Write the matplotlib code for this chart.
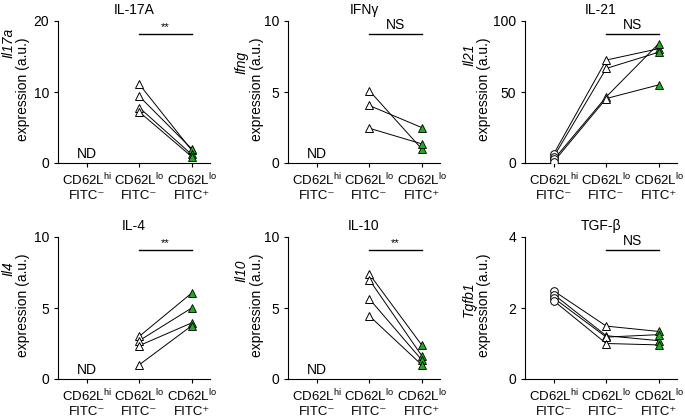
"""
Paired expression plots for six cytokines across three sorted T cell populations.
Saves out.png (685x418).
"""

import matplotlib.pyplot as plt

plt.rcParams["font.family"] = ["Liberation Sans", "DejaVu Sans"]
plt.rcParams["mathtext.fontset"] = "custom"
plt.rcParams["mathtext.rm"] = "Liberation Sans"
plt.rcParams["mathtext.it"] = "Liberation Sans:italic"

GROUP_LABELS = [
    "CD62L$^{\\rm hi}$\nFITC\u207b",
    "CD62L$^{\\rm lo}$\nFITC\u207b",
    "CD62L$^{\\rm lo}$\nFITC\u207a",
]

# one list per mouse pairing; None = not detected
IL17A_HI = None
IL17A_LO_NEG = [11.1, 9.4, 7.8, 7.2]
IL17A_LO_POS = [1.8, 2.0, 1.2, 0.9]

IFNG_HI = None
IFNG_LO_NEG = [5.1, 4.05, 2.45]
IFNG_LO_POS = [1.0, 2.5, 1.35]

IL21_HI = [6.5, 4.5, 2.5, 1.0]
IL21_LO_NEG = [72.5, 66.6, 46.6, 45.4]
IL21_LO_POS = [80.5, 78.0, 84.0, 55.0]

IL4_HI = None
IL4_LO_NEG = [3.0, 2.7, 2.35, 1.0]
IL4_LO_POS = [6.05, 5.0, 3.95, 3.75]

IL10_HI = None
IL10_LO_NEG = [7.4, 7.0, 5.65, 4.45]
IL10_LO_POS = [2.4, 1.65, 1.35, 1.0]

TGFB_HI = [2.48, 2.38, 2.28, 2.2]
TGFB_LO_NEG = [1.49, 1.22, 1.18, 1.0]
TGFB_LO_POS = [1.34, 1.08, 1.25, 0.96]

PANELS = [
    # title, gene, hi, lo-, lo+, ymax, yticks, sig, gene label y (px)
    ("IL-17A", "Il17a", IL17A_HI, IL17A_LO_NEG, IL17A_LO_POS, 20, [0, 10, 20], "**", 43),
    ("IFN\u03b3", "Ifng", IFNG_HI, IFNG_LO_NEG, IFNG_LO_POS, 10, [0, 5, 10], "NS", 62),
    ("IL-21", "Il21", IL21_HI, IL21_LO_NEG, IL21_LO_POS, 100, [0, 50, 100], "NS", 55),
    ("IL-4", "Il4", IL4_HI, IL4_LO_NEG, IL4_LO_POS, 10, [0, 5, 10], "**", 269),
    ("IL-10", "Il10", IL10_HI, IL10_LO_NEG, IL10_LO_POS, 10, [0, 5, 10], "**", 271),
    ("TGF-\u03b2", "Tgfb1", TGFB_HI, TGFB_LO_NEG, TGFB_LO_POS, 4, [0, 2, 4], "NS", 299),
]

GREEN = "#22a822"
W, H = 685, 418
COL_X = [(58, 210), (288, 440), (525, 677)]
ROW_Y = [(21, 163), (237, 379)]
GENE_X = [8, 241, 469]
EXPR_X = [23, 257, 484]


def px_rect(left, top, right, bottom):
    return [left / W, 1 - bottom / H, (right - left) / W, (bottom - top) / H]


def draw_panel(fig, ax, col, title, gene, hi, lo_neg, lo_pos, ymax, yticks, sig, gene_y):
    lw = 0.8
    for i in range(len(lo_neg)):
        xs, ys = [1, 2], [lo_neg[i], lo_pos[i]]
        if hi is not None:
            xs, ys = [0] + xs, [hi[i]] + ys
        ax.plot(xs, ys, color="black", lw=0.7, zorder=2)
    if hi is not None:
        ax.plot([0] * len(hi), hi, ls="none", marker="o", ms=5.5,
                mfc="white", mec="black", mew=0.7, zorder=3)
    else:
        ax.text(0, ymax * 0.06, "ND", ha="center", va="center", fontsize=10)
    ax.plot([1] * len(lo_neg), lo_neg, ls="none", marker="^", ms=6,
            mfc="white", mec="black", mew=0.7, zorder=3)
    ax.plot([2] * len(lo_pos), lo_pos, ls="none", marker="^", ms=6,
            mfc=GREEN, mec="black", mew=0.6, zorder=3)

    # significance bar
    ybar = ymax * 0.91
    ax.plot([1, 2], [ybar, ybar], color="black", lw=1, clip_on=False)
    if sig == "**":
        ax.text(1.5, ybar + ymax * 0.015, sig, ha="center", va="bottom", fontsize=8)
    else:
        ax.text(1.5, ybar + ymax * 0.015, sig, ha="center", va="bottom", fontsize=10)

    ax.set_xlim(-0.55, 2.35)
    ax.set_ylim(0, ymax)
    ax.set_yticks(yticks)
    ax.set_xticks([0, 1, 2])
    ax.set_xticklabels(GROUP_LABELS, fontsize=9.5, linespacing=1.25)
    ax.tick_params(axis="both", direction="out", length=3, width=lw, labelsize=10)
    ax.tick_params(axis="x", labelsize=9.5, pad=3)
    for side in ("top", "right"):
        ax.spines[side].set_visible(False)
    for side in ("left", "bottom"):
        ax.spines[side].set_linewidth(lw)
    ax.set_title(title, fontsize=10, pad=5)

    top, bottom = ROW_Y[0] if gene_y < 200 else ROW_Y[1]
    fig.text(GENE_X[col] / W, 1 - gene_y / H, gene, rotation=90,
             ha="center", va="center", fontsize=10, style="italic")
    fig.text(EXPR_X[col] / W, 1 - (top + 0.48 * (bottom - top)) / H, "expression (a.u.)",
             rotation=90, ha="center", va="center", fontsize=10)


def main() -> None:
    fig = plt.figure(figsize=(6.85, 4.18), dpi=100)
    for k, panel in enumerate(PANELS):
        r, c = divmod(k, 3)
        l, rt = COL_X[c]
        t, b = ROW_Y[r]
        ax = fig.add_axes(px_rect(l, t, rt, b))
        draw_panel(fig, ax, c, *panel)
    fig.savefig("out.png", dpi=100)
    plt.close(fig)


if __name__ == "__main__":
    main()
